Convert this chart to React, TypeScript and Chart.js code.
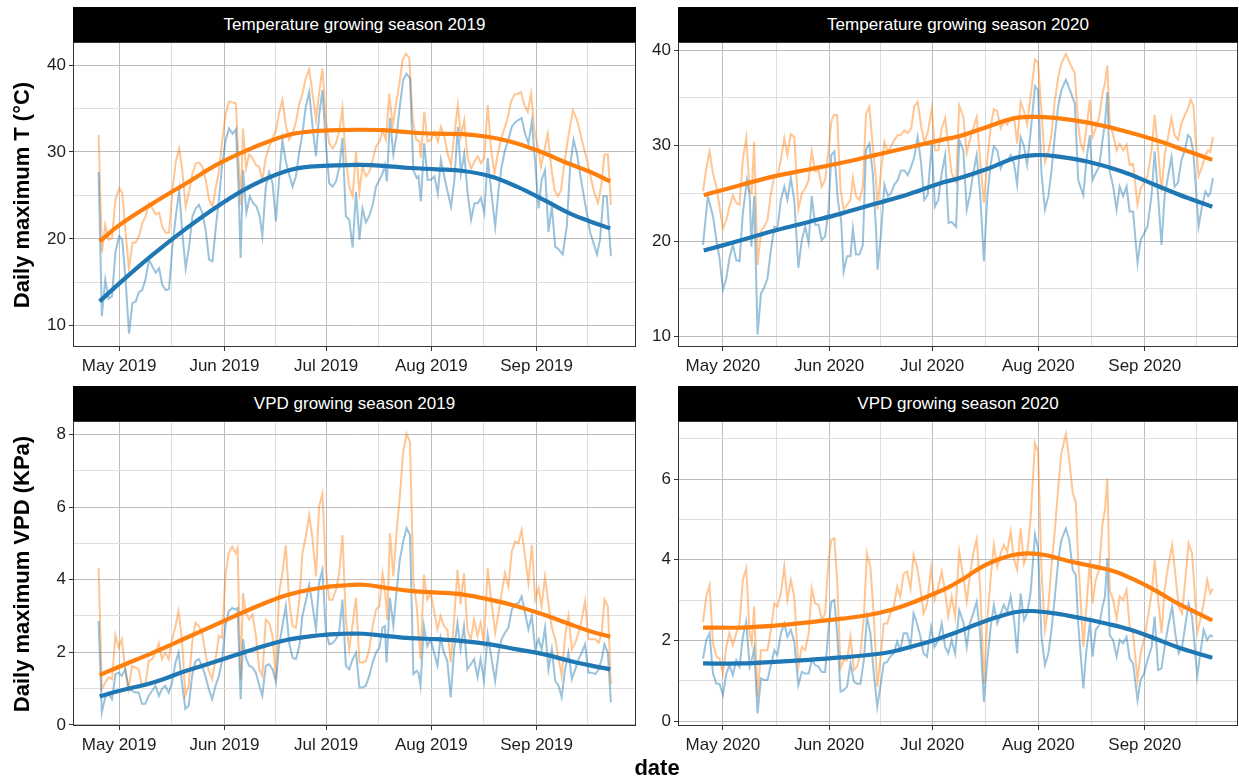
import React, { useEffect, useRef } from "react";
import { Chart, registerables } from "chart.js";
Chart.register(...registerables);

const FONT = "'Liberation Sans', Arial, Helvetica, sans-serif";

// x values are days counted from 1 May of each season's year
const monthTickDays = [0, 31, 61, 92, 123];
const midMonthDays = [15.5, 46, 76.5, 107.5, 138];
const monthLabels2019 = ["May 2019", "Jun 2019", "Jul 2019", "Aug 2019", "Sep 2019"];
const monthLabels2020 = ["May 2020", "Jun 2020", "Jul 2020", "Aug 2020", "Sep 2020"];

const tempMajorTicks = [10, 20, 30, 40];
const tempMinorTicks = [15, 25, 35];
const vpd2019MajorTicks = [0, 2, 4, 6, 8];
const vpd2019MinorTicks = [1, 3, 5, 7];
const vpd2020MajorTicks = [0, 2, 4, 6];
const vpd2020MinorTicks = [1, 3, 5, 7];

const panelTitles = [
  "Temperature growing season 2019",
  "Temperature growing season 2020",
  "VPD growing season 2019",
  "VPD growing season 2020",
];
const yTitleTemp = "Daily maximum T (°C)";
const yTitleVpd = "Daily maximum VPD (KPa)";
const xTitle = "date";

// ---------- Temperature 2019 ----------
const t19OrangeDays = [-6.05,-5.06,-4.1,-3.1,-2.1,-1.1,0,0.9,1.9,2.9,3.9,4.9,5.85,6.8,7.8,8.8,9.8,10.8,11.8,12.7,13.7,14.7,15.7,16.7,17.7,18.6,19.6,20.6,21.6,22.6,23.5,24.5,25.5,26.5,27.5,28.5,29.4,30.4,31.4,32.4,33.4,34.4,35.8,36.5,37.4,38.3,39.3,40.3,41.2,42.2,43.2,44.2,45.2,46.2,47.2,48.1,49.1,50.1,51.1,52.1,53,54,55,56,57,58,58.9,59.9,60.9,61.9,62.9,63.9,64.9,65.8,66.8,67.8,68.8,69.8,70.8,71.7,72.7,73.7,74.7,75.7,76.7,77.6,78.6,79.6,80.6,81.6,82.6,83.5,84.5,85.5,86.5,87.5,88.5,88.9,89.9,90.9,91.9,92.9,93.9,94.8,95.8,96.8,97.8,98.8,99.8,100.7,101.7,102.7,103.7,104.7,105.7,106.6,107.6,108.6,109.6,110.6,111.6,112.5,113.5,114.5,115.5,116.5,117.5,118.4,119.4,120.4,121.4,122.4,123.4,124.3,125.3,126.3,127.3,128.3,129.3,130.2,131.2,132.2,133.7,134.9,136.1,137.1,138.1,139.1,140.1,141.1,142,143,144,144.9];
const t19OrangeVals = [31.95,18.4,21.6,19.9,20.1,24.5,25.8,25.3,20.7,16.5,19.5,19.6,20.3,21.8,22.6,24.1,23.5,22.8,23,21.4,20.7,20.7,25.6,28.9,30.4,27.9,23.7,25.4,27.5,28.7,28.8,28.3,26.8,24.5,23.7,26,27.7,31.4,34.4,35.8,35.7,35.6,23.9,32.7,28.1,29.7,29.3,28.5,28.3,26.8,29.3,30.6,31.6,32.5,34.6,36,33.1,31.4,32.1,33.5,35.4,36.7,38.5,39.5,36.7,33.7,36.7,39.6,33.7,31,30.4,31,32.5,35,29.1,26,24.9,30,25.4,28.3,27.2,27.7,29.1,30.6,31.2,32.5,31.4,36.7,32.9,35.6,37.9,40.6,41.3,40.8,33.7,31.4,31.2,29.3,34.6,31.2,31.4,32.3,31.2,32.9,31.8,29.8,28.5,32.1,35.4,31.8,33.7,29.3,28.1,28.9,29.5,28.7,29.3,35.4,30.2,27.5,29.8,31.4,32.7,33.9,35.8,36.6,36.7,36.9,35.4,34.6,36.7,32.3,30.6,28.3,30.2,32.1,28.3,25.6,24.9,25.6,28.7,31.4,34.8,33.7,31.8,30.2,28.7,26.8,25.2,24.1,26,29.7,29.7,23.9];
const t19BlueDays = [-6.05,-5.1,-4.1,-3.1,-2.1,-1.1,0,0.9,1.9,2.9,3.9,4.9,5.85,6.8,7.8,8.8,9.8,10.8,11.8,12.7,13.7,14.7,15.7,16.7,17.7,18.6,19.6,20.6,21.6,22.6,23.5,24.5,25.5,26.5,27.5,28.5,29.4,30.4,31.4,32.4,33.4,34.4,35.1,35.8,36.5,37.5,38.5,39.5,40.5,41.4,42.2,43.2,44.2,45.2,46.2,47.2,48.1,49.1,50.1,51.1,52.1,53,54,55,56,57,58,58.9,59.9,60.9,61.9,62.9,63.9,64.9,65.8,66.8,67.8,68.8,69.8,70.8,71.7,72.7,73.7,74.7,75.7,76.7,77.6,78.3,78.9,79.8,80.8,81.8,82.7,83.7,84.7,85.7,86.7,87.7,88.2,88.9,89.9,90.9,91.9,92.9,93.9,94.8,95.8,96.8,97.8,98.8,99.8,100.7,101.7,102.7,103.7,104.7,105.7,106.6,107.6,108.6,109.6,110.8,111.8,112.7,113.7,114.7,115.7,116.7,117.7,118.6,119.6,120.6,121.6,122.6,123.6,124.5,125.5,126.5,127.5,128.5,129.5,130.7,131.9,132.9,133.9,134.9,135.8,136.8,137.8,138.8,139.8,140.8,141.7,142.7,143.7,144.9];
const t19BlueVals = [27.7,11.1,15.3,13.1,13.4,18.5,20.3,19.9,15.3,9.1,12.6,12.8,13.9,14.1,15.4,17.6,16.8,16.1,16.6,14.7,14.1,14.2,19.1,22.6,25.6,20.7,16.6,19.1,22.6,23.5,23.9,23,21,17.6,17.4,21.4,24.5,28.7,31.4,32.7,32.1,32.6,26.8,17.8,27.9,23,24.9,24.1,23.7,22.6,20.3,26,27.7,26.4,22,27.2,31.4,28.9,27.4,26,27.2,29.8,32.1,35.2,36.9,32.9,29.5,34.1,37.1,31,26.4,26,26.6,28.3,31.6,22.6,22.2,19,25.4,19.9,23.5,21.9,22.6,23.9,26,26.8,27.5,28.5,26.6,33.9,29.7,32.1,35.2,38.3,39,38.5,27.9,27,27.2,24.3,31,26.8,26.8,27.2,25.2,29.1,27.2,25.4,23.7,26.8,32.9,27.5,29.8,25.2,22.2,24.1,24.1,24.7,23,29.3,25.6,21.4,25.6,28.3,30.2,31.4,32.9,33.4,33.7,33.9,32.1,31,33.5,28.7,23.5,26.8,27.9,20.8,23.7,19.1,18.8,18.2,21.4,28.3,31.4,29.8,27.5,25.2,23,20.7,19.5,18.2,19.9,24.9,24.9,18];
const t19OrangeSmoothDays = [-5.75,0.15,10,19.8,29.6,39.5,49.3,56.2,64,70.8,77.8,85.7,92.6,101.4,108.3,115.2,123.1,130.9,138.8,144.7];
const t19OrangeSmoothVals = [19.7,21.6,24.1,26.4,28.7,30.5,31.9,32.35,32.5,32.55,32.5,32.25,32.1,32.05,31.75,31.2,30.2,28.9,27.7,26.6];
const t19BlueSmoothDays = [-5.75,0.15,10,19.8,29.6,39.5,49.3,56.2,64,70.8,77.8,85.7,93.6,101.4,109.3,117.2,125,132.9,138.8,144.7];
const t19BlueSmoothVals = [12.8,14.9,18.2,21.2,23.9,26.2,27.8,28.3,28.45,28.5,28.4,28.15,28,27.8,27.2,26,24.5,22.9,22,21.2];

// ---------- Temperature 2020 ----------
const t20OrangeDays = [-5.8,-4.85,-3.9,-2.9,-1.9,-1,0,1,1.9,2.9,3.9,4.85,5.8,6.8,7.8,8.4,9.1,10.1,11.1,12,13,14,15,15.9,16.9,17.9,18.8,19.8,20.8,22,23,24,25,25.9,26.9,27.9,28.8,29.8,30.8,31.6,32.3,33.3,34.3,35.2,36.2,37.2,37.9,38.8,39.8,40.8,41.7,42.7,43.7,44.7,45.1,46.1,47.1,48.1,49,50,51,51.9,52.9,53.9,54.9,55.8,56.8,57.8,58.7,59.7,60.9,61.8,62.8,63.8,64.8,65.8,66.7,68,68.9,70.1,71.1,72,73,74,75,76.1,77.1,78.1,79,80,81,81.9,82.9,83.9,84.9,85.8,86.8,87.8,88.7,89.7,91,91.9,92.9,93.9,94.9,95.8,96.8,97.8,98.7,100,101.2,102.6,103.6,104.3,105.1,106,107,107.8,108.7,109.7,110.7,111.4,112.1,112.8,113.8,114.8,115.7,116.7,117.7,118.6,119.6,120.9,121.8,122.8,123.8,125,125.9,126.9,127.9,128.8,129.8,130.8,131.7,132.7,133.7,134.7,135.6,136.4,137.2,137.8,138.7,139.7,140.7,141.5,142.1,142.9];
const t20OrangeVals = [25.2,27.6,29.4,27.1,25.7,23.6,21.3,22.2,23.6,24.8,24,23.8,28.5,30.8,25.2,25,30.4,17.5,21,21.5,22.2,25,26.9,26.8,28.5,30.8,29,31.2,30.9,23.3,25,25.5,26.4,29.4,27.3,27.4,25.7,26.4,29.5,32.5,33.2,33.2,25.4,23.3,23.8,24.3,26.6,24.7,24.3,25.7,33.2,34.1,29.9,26.1,23.3,27.4,30.4,29.4,29.9,30.6,31.1,31.1,31.6,31.3,31.8,34.1,34.6,32,30.4,31.3,33.9,29.5,29.5,31.8,32.9,29.9,27.1,26.2,34.2,33,29.2,30.6,31.8,33,28.5,24,28.5,32,33.8,33.6,31.8,32.5,32.2,32.9,33,30.2,34.6,33.6,32.2,35.1,39,38.7,33.4,28.3,29.4,31.1,34.8,37.2,38.6,39.6,38.6,37.6,32.2,30.2,29.5,31.8,34.8,30.9,31.8,33,35.5,36.5,38.4,32.3,31.1,29.5,30.2,29.5,30.1,28,28.1,23.8,25.5,26.1,26.8,29.5,33.2,29.5,25.2,29,30.9,32.9,31.1,30.6,32.3,33.2,33.9,34.8,34.2,30.9,26.8,27.8,29,29.5,29.3,30.9];
const t20BlueDays = [-5.8,-4.4,-2.9,-1.9,-1,0,1,1.9,2.9,3.9,4.85,5.8,7,7.8,8.3,9.1,10.1,11.1,12,13,14,15,15.9,16.9,17.9,18.8,19.8,20.8,22,23,24,25,25.9,26.9,27.9,28.8,29.8,30.8,31.6,32.5,33.5,34.5,35.2,36.2,37.2,37.9,38.8,39.8,40.8,41.7,42.7,43.7,44.7,45.1,46.1,47.1,48.1,49,50,51,51.9,52.9,53.9,54.9,55.8,56.8,57.8,58.7,59.7,60.9,61.8,62.8,63.8,64.8,65.8,66.7,68,68.9,70.1,71.1,72,73,74,75,76.1,77.1,78.1,79,80,81,81.9,82.9,83.9,84.9,85.8,86.8,87.8,88.7,89.7,91,91.9,92.9,93.9,94.9,95.8,96.8,97.8,98.7,100,101.2,102.6,103.6,105.1,106,107,107.8,108.7,109.7,110.7,111.4,112.1,112.8,113.8,114.8,115.7,116.7,117.7,118.6,119.6,120.9,121.8,122.8,123.8,125,125.9,126.9,127.9,128.8,129.8,130.8,131.7,132.7,133.7,134.7,135.6,136.4,137.2,138.7,139.7,140.7,141.5,142.1,142.9];
const t20BlueVals = [19.6,24.7,22.6,20.1,18.2,14.9,16.1,18.2,19.6,18,17.9,22.9,26.4,24.8,19.4,24.7,10.2,14.5,15.1,16.1,19.1,21.5,21.3,24.3,25.7,24.3,26.6,24.3,17.2,20.1,21.5,19.8,24.7,21.7,21.7,20.1,20.5,23.3,29,29.4,24.3,22,16.8,18.4,18.4,21.3,18.6,18.6,19.6,29.5,30.2,27.1,20.8,17,20.8,25.9,24.7,25,25.9,26.4,27.4,27.4,26.9,27.8,28.8,30.9,28.1,24.3,24.8,30.2,23.6,24.3,27.1,29,21.9,22,21.5,30.6,29.5,23.3,24.8,27.1,29,25,17.9,24.7,28.1,29.9,29.5,27.6,28.3,28.3,29,28.1,25.9,30.9,29.9,28,31.3,36.2,35.8,27.1,23.3,24.7,27.3,31.1,34.2,35.8,36.9,35.8,34.4,26.4,24.8,28.5,31.1,26.4,27.1,27.8,30.6,32.3,35.6,27.3,25.7,23.3,25.7,24.7,25.7,23.1,23.1,17.7,20.1,20.8,21.5,24.8,29.4,24.7,19.6,24.7,26.8,28.8,25.7,26.1,28.5,29.5,31.1,30.8,29.2,21.5,23.6,25.2,24.7,25,26.6];
const t20OrangeSmoothDays = [-5.6,5.5,15.2,25,34.7,44.4,54.1,63.8,69.1,77.4,84.2,90,96.8,106.5,116.2,125.9,135.6,142.7];
const t20OrangeSmoothVals = [24.8,25.9,26.8,27.5,28.2,29,29.8,30.6,31,32,32.8,33,32.9,32.4,31.6,30.6,29.4,28.5];
const t20BlueSmoothDays = [-5.6,5.5,15.2,25,34.7,44.4,54.1,63.8,69.1,77.4,85.1,91,96.8,106.5,116.2,125.9,135.6,142.7];
const t20BlueSmoothVals = [19,20.1,21.1,22,22.9,23.9,24.9,26.1,26.6,27.6,28.7,29,28.9,28.3,27.3,25.9,24.5,23.6];

// ---------- VPD 2019 ----------
const v19OrangeDays = [-6.05,-5.1,-4.1,-3.1,-2.1,-1.1,-0.15,0.8,1.8,2.8,3.8,4.8,5.75,6.7,7.7,8.7,9.7,10.7,11.7,12.6,13.6,14.6,15.6,16.6,17.5,18.5,19.5,20.5,21.5,22.5,23.5,24.4,25.4,26.4,27.4,28.4,29.4,30.3,31.3,32.3,33.3,34.3,34.9,35.8,36.5,37.3,38.3,39.3,40.3,41.3,42.2,43.2,44.2,45.2,46.2,47.1,48.1,49.1,50.1,51.1,52.1,53.1,54,55,56,57,58,58.9,59.9,60.9,61.9,62.9,63.9,64.8,65.8,66.8,67.8,69.8,70.8,71.7,72.7,73.7,74.7,75.7,76.7,77.6,78.3,79,79.8,80.8,81.8,82.7,83.7,84.7,85.7,86.7,87.7,88.2,88.8,89.8,90.8,91.8,92.8,93.8,94.7,95.7,96.7,97.7,98.7,99.7,100.6,101.6,102.6,103.6,104.6,105.6,106.5,107.5,108.6,109.6,110.8,111.8,112.7,113.7,114.7,115.7,116.7,117.7,118.6,119.6,120.6,121.6,122.6,123.6,124.5,125.5,126.5,127.5,128.5,129.5,130.4,131.4,132.4,133.4,134.4,135.4,136.3,137.3,138.3,139.3,140.3,141.3,142.2,143,144,144.9];
const v19OrangeVals = [4.32,0.99,1.17,1.31,1.26,2.47,2.13,2.36,1.53,0.99,1.63,1.58,1.53,1.08,1.08,1.76,1.81,1.99,2.25,1.81,1.99,1.81,2.36,2.72,3.13,2.36,0.8,1.08,2.26,2.81,2.72,2.54,1.99,1.49,1.26,1.81,2.45,2.4,4.09,4.73,4.91,4.73,4.87,1.26,3.63,3.09,2.9,3.04,2.45,1.53,1.35,2.9,2.81,2.45,1.26,3.63,4.18,4.96,3.41,2.72,2.68,3.45,4.73,5.19,5.78,5.1,4.09,6.01,6.37,4.32,3.45,3.45,3.73,4.14,5.23,2.9,2.08,3.5,1.72,1.72,1.76,2.08,2.72,3.18,3.27,4.18,3.77,2.9,5.28,4.09,5.37,6.28,7.52,8.02,7.79,3.91,3.27,2.54,1.81,4.14,3.45,3.63,3.13,2.63,3,2.72,2.63,1.72,2.9,4.27,3.32,4.18,2.63,2.36,2.9,2.45,2.81,2.26,4.32,3.45,2.54,3.09,3.63,4.18,3.82,4.78,5.05,5,5.37,4.64,3.91,4.96,3.45,3.77,3.27,4.09,3.32,2.68,2.36,1.81,1.35,2.45,3,2.08,2.26,2.54,2.9,3.41,2.36,2.36,2.36,2.26,2.54,3.45,3.27,1.12];
const v19BlueDays = [-6.05,-5.1,-4.1,-3.1,-2.1,-1.1,-0.15,0.8,1.8,2.8,3.8,4.8,5.75,6.7,7.7,8.7,9.7,10.7,11.7,12.6,13.6,14.6,15.6,16.6,17.5,18.5,19.5,20.5,21.5,22.5,23.5,24.4,25.4,26.4,27.4,28.4,29.4,30.3,31.3,32.3,33.3,34.3,34.9,35.8,36.5,37.3,38.3,39.3,40.3,41.3,42.2,43.2,44.2,45.2,46.2,47.1,48.1,49.1,50.1,51.1,52.1,53.1,54,55,56,57,58,58.9,59.9,60.9,61.9,62.9,63.9,64.8,65.8,66.8,67.8,68.8,69.8,70.8,71.7,72.7,73.7,74.7,75.7,76.7,77.6,78.3,78.8,79.8,80.8,81.8,82.7,83.7,84.7,85.7,86.7,87.7,88.2,88.8,89.8,90.8,91.8,92.8,93.8,94.7,95.7,96.7,97.7,98.7,99.7,100.6,101.6,102.6,103.6,104.6,105.6,106.5,107.5,108.6,109.6,110.8,111.8,112.7,113.7,114.7,115.7,116.7,117.7,118.6,119.6,120.6,121.6,122.6,123.6,124.5,125.5,126.5,127.5,128.5,129.5,130.4,131.4,132.4,133.4,134.4,135.4,136.3,137.3,138.3,139.3,140.3,141.3,142.2,143,144,144.9];
const v19BlueVals = [2.86,0.35,0.76,0.85,0.71,1.4,1.44,1.35,1.53,0.99,0.94,0.89,0.89,0.58,0.58,0.8,0.94,1.08,0.8,0.99,1.08,0.89,1.17,1.72,1.99,1.17,0.44,0.53,1.35,1.76,1.81,1.63,1.35,0.99,0.71,1.08,1.35,1.76,2.72,3.13,3.22,3.18,3.22,0.71,2.36,1.85,1.63,1.58,1.44,1.08,0.8,1.63,1.67,1.53,1.17,2.17,2.72,3.27,2.26,1.85,1.81,2.17,3,3.41,3.86,3.27,2.63,3.91,4.27,2.58,2.22,2.25,2.36,2.54,3.45,1.63,1.53,1.81,1.99,1.03,1.03,1.08,1.35,1.72,1.99,2.13,2.68,2.72,1.72,3.5,2.72,3.73,4.55,5.05,5.42,5.23,1.4,1.49,1.44,1.08,2.72,2.17,2.36,1.99,1.63,2.4,1.99,1.76,0.76,2.08,2.81,2.08,2.72,1.53,1.67,1.81,1.31,1.81,1.21,2.49,1.9,1.21,1.99,2.36,2.54,2.68,3.18,3.32,3.36,3.54,3.09,2.63,3,2.08,2.36,2.08,2.68,1.53,2.08,1.21,1.08,0.76,1.53,1.99,1.26,1.53,1.81,1.99,2.22,1.44,1.44,1.4,1.53,1.81,2.22,1.99,0.62];
const v19OrangeSmoothDays = [-5.75,0.15,10,19.8,29.6,39.5,49.3,59.1,66,72,77.8,85.7,92.6,101.4,109.3,117.2,125,132.9,138.8,144.7];
const v19OrangeSmoothVals = [1.37,1.61,1.99,2.4,2.81,3.22,3.57,3.77,3.84,3.86,3.79,3.69,3.65,3.59,3.45,3.27,3.04,2.77,2.58,2.43];
const v19BlueSmoothDays = [-5.75,0.15,10,19.8,29.6,39.5,49.3,59.1,66,72,77.8,85.7,93.6,101.4,109.3,117.2,125,132.9,138.8,144.7];
const v19BlueSmoothVals = [0.79,0.94,1.17,1.49,1.78,2.08,2.34,2.47,2.51,2.51,2.46,2.39,2.36,2.31,2.22,2.08,1.95,1.76,1.64,1.53];

// ---------- VPD 2020 ----------
const v20OrangeDays = [-5.8,-4.85,-3.9,-2.9,-1.9,-1,0,1,1.9,2.9,3.9,4.85,5.8,6.8,7.8,8.4,9.1,10.1,11.1,12,13,14,15,15.9,16.9,17.9,18.8,19.8,20.8,22,23,24,25,25.9,26.9,27.9,28.8,29.8,30.8,31.6,32.5,33.3,34.3,35.2,36.2,37.2,38.2,39.1,40.1,41.1,42,43,44,45,45.9,46.9,47.9,48.8,49.8,50.8,51.7,52.7,53.7,54.7,55.6,56.6,57.6,58.5,59.5,60.7,61.7,62.8,63.8,64.8,65.7,66.7,67.7,68.9,70.1,71.1,72,73,74,75,76.1,77.1,78.1,79,80,81,81.9,82.9,83.9,84.9,85.8,86.8,87.8,88.7,89.7,91,91.9,92.9,93.9,94.9,95.8,96.8,97.8,98.7,100,101,102,102.9,103.6,105.1,106,107,107.8,108.7,109.7,110.7,111.4,112.1,112.8,113.8,114.8,115.7,116.7,117.7,118.6,119.6,120.9,121.8,122.8,123.8,125,125.9,126.9,127.9,128.8,129.8,131,131.9,132.9,133.9,134.9,135.8,136.8,137.6,138.3,139.2,140.2,141.2,142.1,142.9];
const v20OrangeVals = [2.46,3.09,3.37,1.93,1.6,1.55,1.18,1.84,2.18,1.89,2.18,2.42,3.5,3.79,2.18,1.93,2.84,0.6,1.76,1.76,1.76,2.26,2.92,2.84,3.17,3.83,3,3.5,3.09,1.35,1.84,1.76,2.18,3.29,2.92,2.88,2.51,2.67,4,4.49,4.53,3.5,1.31,1.51,1.51,2.09,1.27,1.35,1.68,2.59,4.16,3.83,2.59,0.85,1.51,2.42,2.42,2.67,2.84,3.33,3.09,3.66,3.71,3.29,4.12,3.83,3.29,2.67,2.88,3.79,3,3.33,3.71,3.21,2.59,3.09,2.59,4.2,3.58,2.96,3.58,4.16,4.51,3.33,0.93,2.51,3.58,4.37,3.83,4.16,4.37,4.2,4.7,4,3.75,4.78,3.91,4.16,4.99,6.89,6.68,3.75,2.26,2.84,3.83,4.74,5.81,6.64,7.12,6.48,5.65,5.44,4,1.84,2.84,4,2.92,3.5,3.75,4.9,5.24,6.02,3.25,3,2.55,3.09,3,3.25,2.34,2.18,1.02,1.68,2.01,2.51,3.17,4,3,2.18,3.25,3.83,4.37,3.66,2.84,2.67,3.58,4.41,4.16,3.17,2.18,2.51,2.92,3.5,3.17,3.29];
const v20BlueDays = [-5.8,-4.85,-3.9,-2.9,-1.9,-1,0,1,1.9,2.9,3.9,4.85,5.8,6.8,7.8,8.4,9.1,10.1,11.1,12,13,14,15,15.9,16.9,17.9,18.8,19.8,20.8,22,23,24,25,25.9,26.9,27.9,28.8,29.8,30.8,31.6,32.5,33.3,34.3,35.2,36.2,37.2,38.2,39.1,40.1,41.1,42,43,44,45,45.9,46.9,47.9,48.8,49.8,50.8,51.7,52.7,53.7,54.7,55.6,56.6,57.6,58.5,59.5,60.7,61.7,62.8,63.8,64.8,65.7,66.7,67.7,68.9,70.1,71.1,72,73,74,75,76.1,77.1,78.1,79,80,81,81.9,82.9,83.9,84.9,85.8,86.8,87.8,88.7,89.7,91,91.9,92.9,93.9,94.9,95.8,96.8,97.8,98.7,100,101,102,102.9,103.6,105.1,106,107,107.8,108.7,109.7,110.7,111.4,112.1,112.8,113.8,114.8,115.7,116.7,117.7,118.6,119.6,120.9,121.8,122.8,123.8,125,125.9,126.9,127.9,128.8,129.8,131,131.9,132.9,133.9,134.9,135.8,136.8,137.6,138.3,139.2,140.2,141.2,142.1,142.9];
const v20BlueVals = [1.55,2.01,2.18,1.18,0.93,0.93,0.65,1.18,1.39,1.14,1.51,1.35,2.09,2.46,1.35,1.51,1.8,0.19,1.06,1.02,1.02,1.39,1.76,1.64,2.18,2.42,2.09,2.26,1.97,0.89,1.22,1.18,1.18,1.51,1.39,1.35,1.22,1.22,2.3,2.96,3,2.18,0.73,0.77,0.85,1.43,0.98,0.93,0.93,1.51,2.59,2.18,1.18,0.36,0.85,1.43,1.47,1.6,1.68,1.97,1.76,2.18,2.18,1.84,2.67,2.42,2.09,1.68,1.6,2.34,1.84,2.01,2.42,1.84,1.68,2.01,1.68,2.75,2.46,1.84,2.42,2.67,2.96,2.18,0.48,1.51,2.34,2.88,2.42,2.67,2.88,2.71,3.09,2.51,1.68,3.17,2.51,2.67,3.17,4.62,4.28,2.09,1.39,1.68,2.26,3.09,4,4.49,4.78,4.49,3.75,3.62,2.42,0.81,1.76,2.42,1.6,2.26,2.38,2.84,3.09,4.04,2.13,2.01,1.6,2.01,1.93,2.09,1.55,1.43,0.52,1.02,1.18,1.51,1.84,2.59,1.27,1.31,1.84,2.34,2.84,2.18,1.68,1.84,2.42,2.92,2.59,1.84,1.1,1.68,2.26,2.01,2.13,2.09];
const v20OrangeSmoothDays = [-5.8,5.5,15.2,25,34.7,42.4,49.2,55,60.5,66,70.5,75,80,84.5,89,93.9,100.7,108.4,114.3,120.1,125.9,131.7,137.6,142.7];
const v20OrangeSmoothVals = [2.32,2.32,2.37,2.45,2.54,2.63,2.76,2.93,3.12,3.33,3.55,3.8,4.0,4.12,4.16,4.12,3.97,3.83,3.71,3.5,3.25,2.96,2.71,2.5];
const v20BlueSmoothDays = [-5.8,5.5,15.2,25,34.7,42.4,49.2,56,62,68,74,80,85.1,90,96.8,104.6,112.3,119.1,125.9,133.7,142.7];
const v20BlueSmoothVals = [1.43,1.43,1.47,1.52,1.58,1.64,1.72,1.87,2.02,2.2,2.4,2.58,2.7,2.73,2.67,2.55,2.41,2.26,2.05,1.8,1.57];

const ORANGE = "#ff7f0e";
const BLUE = "#1f77b4";
const ORANGE_RAW = "rgba(255,127,14,0.45)";
const BLUE_RAW = "rgba(31,119,180,0.45)";
const GRID_MAJOR = "#bdbdbd";
const GRID_MINOR = "#dedede";
const TEXT = "#1e1e1e";

function pts(days: number[], vals: number[]) {
  return days.map((d, i) => ({ x: d, y: vals[i] }));
}

type PanelDef = {
  title: string;
  plotLeft: number; plotTop: number; plotW: number; plotH: number;
  xMin: number; xMax: number; yMin: number; yMax: number;
  xLabels: string[]; yMajor: number[]; yMinor: number[];
  orange: [number[], number[]]; blue: [number[], number[]];
  orangeSmooth: [number[], number[]]; blueSmooth: [number[], number[]];
};

const AXIS_W = 70;
const PAD_TOP = 24;
const PAD_RIGHT = 1;
const AXIS_H = 36;

const panels: PanelDef[] = [
  {
    title: panelTitles[0], plotLeft: 73, plotTop: 42, plotW: 563, plotH: 305,
    xMin: -13.6, xMax: 152.3, yMin: 7.55, yMax: 42.65,
    xLabels: monthLabels2019, yMajor: tempMajorTicks, yMinor: tempMinorTicks,
    orange: [t19OrangeDays, t19OrangeVals], blue: [t19BlueDays, t19BlueVals],
    orangeSmooth: [t19OrangeSmoothDays, t19OrangeSmoothVals], blueSmooth: [t19BlueSmoothDays, t19BlueSmoothVals],
  },
  {
    title: panelTitles[1], plotLeft: 678, plotTop: 42, plotW: 560, plotH: 305,
    xMin: -13.1, xMax: 150.2, yMin: 8.9, yMax: 40.85,
    xLabels: monthLabels2020, yMajor: tempMajorTicks, yMinor: tempMinorTicks,
    orange: [t20OrangeDays, t20OrangeVals], blue: [t20BlueDays, t20BlueVals],
    orangeSmooth: [t20OrangeSmoothDays, t20OrangeSmoothVals], blueSmooth: [t20BlueSmoothDays, t20BlueSmoothVals],
  },
  {
    title: panelTitles[2], plotLeft: 73, plotTop: 421, plotW: 563, plotH: 305,
    xMin: -13.6, xMax: 152.3, yMin: -0.03, yMax: 8.37,
    xLabels: monthLabels2019, yMajor: vpd2019MajorTicks, yMinor: vpd2019MinorTicks,
    orange: [v19OrangeDays, v19OrangeVals], blue: [v19BlueDays, v19BlueVals],
    orangeSmooth: [v19OrangeSmoothDays, v19OrangeSmoothVals], blueSmooth: [v19BlueSmoothDays, v19BlueSmoothVals],
  },
  {
    title: panelTitles[3], plotLeft: 678, plotTop: 421, plotW: 560, plotH: 305,
    xMin: -13.1, xMax: 150.2, yMin: -0.12, yMax: 7.44,
    xLabels: monthLabels2020, yMajor: vpd2020MajorTicks, yMinor: vpd2020MinorTicks,
    orange: [v20OrangeDays, v20OrangeVals], blue: [v20BlueDays, v20BlueVals],
    orangeSmooth: [v20OrangeSmoothDays, v20OrangeSmoothVals], blueSmooth: [v20BlueSmoothDays, v20BlueSmoothVals],
  },
];

const borderPlugin = {
  id: "panelBorder",
  afterDraw(chart: any) {
    const { ctx, chartArea: a } = chart;
    ctx.save();
    ctx.strokeStyle = "#333333";
    ctx.lineWidth = 1;
    ctx.strokeRect(a.left + 0.5, a.top + 0.5, a.width - 1, a.height - 1);
    ctx.restore();
  },
};

function makeChart(canvas: HTMLCanvasElement, p: PanelDef) {
  const xTicks = [...monthTickDays, ...midMonthDays].sort((a, b) => a - b);
  const yTicks = [...p.yMajor, ...p.yMinor].sort((a, b) => a - b);
  const tickFont = { family: FONT, size: 17 };
  return new Chart(canvas, {
    type: "line",
    data: {
      datasets: [
        { data: pts(p.orangeSmooth[0], p.orangeSmooth[1]), borderColor: ORANGE, borderWidth: 4.2, pointRadius: 0, tension: 0.4, order: 0 },
        { data: pts(p.blueSmooth[0], p.blueSmooth[1]), borderColor: BLUE, borderWidth: 4.2, pointRadius: 0, tension: 0.4, order: 1 },
        { data: pts(p.blue[0], p.blue[1]), borderColor: BLUE_RAW, borderWidth: 2, pointRadius: 0, tension: 0, order: 2 },
        { data: pts(p.orange[0], p.orange[1]), borderColor: ORANGE_RAW, borderWidth: 2, pointRadius: 0, tension: 0, order: 3 },
      ],
    } as any,
    options: {
      responsive: false,
      animation: false,
      devicePixelRatio: 1,
      events: [],
      layout: { padding: { top: PAD_TOP, right: PAD_RIGHT, left: 0, bottom: 0 } },
      plugins: { legend: { display: false }, tooltip: { enabled: false }, title: { display: false } },
      scales: {
        x: {
          type: "linear",
          min: p.xMin,
          max: p.xMax,
          afterBuildTicks: (s: any) => { s.ticks = xTicks.map((v) => ({ value: v })); },
          afterFit: (s: any) => { s.height = AXIS_H; },
          border: { display: false },
          grid: {
            color: (c: any) => (c.tick && monthTickDays.includes(c.tick.value) ? GRID_MAJOR : GRID_MINOR),
            tickColor: (c: any) => (c.tick && monthTickDays.includes(c.tick.value) ? "#333333" : "rgba(0,0,0,0)"),
            tickLength: 4,
            lineWidth: 1,
          },
          ticks: {
            autoSkip: false, maxRotation: 0, minRotation: 0, padding: 5, color: TEXT, font: tickFont,
            callback: (v: any) => { const i = monthTickDays.indexOf(Number(v)); return i >= 0 ? p.xLabels[i] : ""; },
          },
        },
        y: {
          type: "linear",
          min: p.yMin,
          max: p.yMax,
          afterBuildTicks: (s: any) => { s.ticks = yTicks.map((v) => ({ value: v })); },
          afterFit: (s: any) => { s.width = AXIS_W; },
          border: { display: false },
          grid: {
            color: (c: any) => (c.tick && p.yMajor.includes(c.tick.value) ? GRID_MAJOR : GRID_MINOR),
            tickColor: (c: any) => (c.tick && p.yMajor.includes(c.tick.value) ? "#333333" : "rgba(0,0,0,0)"),
            tickLength: 4,
            lineWidth: 1,
          },
          ticks: {
            autoSkip: false, padding: 3, color: TEXT, font: tickFont,
            callback: (v: any) => (p.yMajor.includes(Number(v)) ? String(v) : ""),
          },
        },
      },
    } as any,
    plugins: [borderPlugin],
  });
}

export default function App() {
  const refs = useRef<(HTMLCanvasElement | null)[]>([]);
  useEffect(() => {
    const charts = panels.map((p, i) => makeChart(refs.current[i] as HTMLCanvasElement, p));
    return () => charts.forEach((c) => c.destroy());
  }, []);

  return (
    <div style={{ position: "fixed", left: 0, top: 0, width: 1239, height: 780, background: "#fff", fontFamily: FONT, overflow: "hidden" }}>
      {panels.map((p, i) => (
        <div key={"strip" + i} style={{
          position: "absolute", left: p.plotLeft, top: p.plotTop - 35, width: p.plotW, height: 35,
          background: "#000", color: "#fff", fontSize: 17, lineHeight: "35px", textAlign: "center", whiteSpace: "nowrap",
        }}>{p.title}</div>
      ))}
      {panels.map((p, i) => (
        <canvas
          key={"c" + i}
          ref={(el) => { refs.current[i] = el; }}
          width={AXIS_W + p.plotW + PAD_RIGHT}
          height={PAD_TOP + p.plotH + AXIS_H}
          style={{ position: "absolute", left: p.plotLeft - AXIS_W, top: p.plotTop - PAD_TOP }}
        />
      ))}
      <div style={{ position: "absolute", left: 22, top: 194.5, transform: "translate(-50%, -50%) rotate(-90deg)", fontSize: 22, fontWeight: "bold", whiteSpace: "nowrap", color: "#000" }}>{yTitleTemp}</div>
      <div style={{ position: "absolute", left: 22, top: 573.5, transform: "translate(-50%, -50%) rotate(-90deg)", fontSize: 22, fontWeight: "bold", whiteSpace: "nowrap", color: "#000" }}>{yTitleVpd}</div>
      <div style={{ position: "absolute", left: 657, top: 768, transform: "translate(-50%, -50%)", fontSize: 22, fontWeight: "bold", whiteSpace: "nowrap", color: "#000" }}>{xTitle}</div>
    </div>
  );
}
